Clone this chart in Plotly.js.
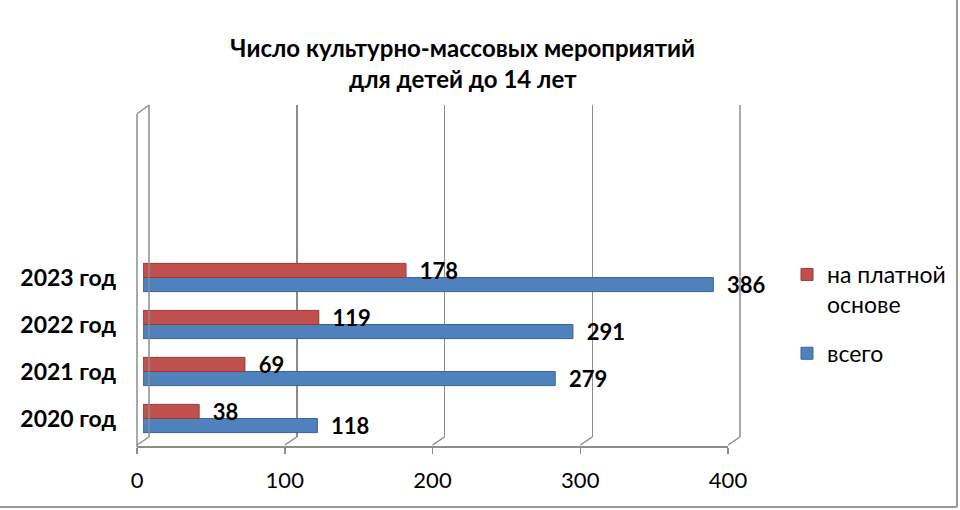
<!DOCTYPE html>
<html>
<head>
<meta charset="utf-8">
<script src="https://cdn.plot.ly/plotly-3.0.1.min.js"></script>
<style>
  html, body { margin: 0; padding: 0; background: #fff; }
  #chart { width: 960px; height: 510px; }
</style>
</head>
<body>
<div id="chart"></div>
<script>
// chart data
const years = ["2020 год", "2021 год", "2022 год", "2023 год"];
const paid = [38, 69, 119, 178];
const total = [118, 279, 291, 386];
const xTicks = [0, 100, 200, 300, 400];

const W = 960, H = 510;
const FONT = "Lato, 'Open Sans', sans-serif";
const GRID = "#8c8c8c";

// pixel helpers for the fake 3D wall
const fx = px => px / W;
const fy = py => 1 - py / H;
const frontDom = [fx(137), fx(728)];
const backDom = [fx(149), fx(740)];
const onDom = (dom, v) => dom[0] + (dom[1] - dom[0]) * v / 400;

const data = [
    // empty traces so the wall subplots get drawn
    { x: [], y: [], type: "scatter", xaxis: "x", yaxis: "y", showlegend: false, hoverinfo: "skip" },
    { x: [], y: [], type: "scatter", xaxis: "x2", yaxis: "y2", showlegend: false, hoverinfo: "skip" },
    {
        name: "всего",
        legendgroup: "b",
        legendrank: 2,
        type: "bar",
        orientation: "h",
        x: total,
        y: years,
        xaxis: "x3",
        yaxis: "y3",
        marker: { color: "#4F81BD", line: { color: "#3c6496", width: 1 } },
        texttemplate: "  %{x}",
        textposition: "outside",
        constraintext: "none",
        cliponaxis: false,
        textfont: { family: FONT, size: 22, color: "#000", weight: "bold" }
    },
    {
        name: "на платной<br>основе",
        legendgroup: "a",
        legendrank: 1,
        type: "bar",
        orientation: "h",
        x: paid,
        y: years,
        xaxis: "x3",
        yaxis: "y3",
        marker: { color: "#C0504D", line: { color: "#943c3a", width: 1 } },
        texttemplate: "  %{x}",
        textposition: "outside",
        constraintext: "none",
        cliponaxis: false,
        textfont: { family: FONT, size: 22, color: "#000", weight: "bold" }
    }
];

// floor diagonals, edge gridlines and the left side wall
const shapes = xTicks.map(v => ({
    type: "line", xref: "paper", yref: "paper",
    x0: onDom(frontDom, v), y0: fy(445), x1: onDom(backDom, v), y1: fy(437),
    line: { color: GRID, width: 1.5 }
}));
[0, 400].forEach(v => shapes.push({
    type: "line", xref: "paper", yref: "paper",
    x0: onDom(backDom, v), y0: fy(105), x1: onDom(backDom, v), y1: fy(437),
    line: { color: GRID, width: 1.5 }
}));
shapes.push(
    { type: "line", xref: "paper", yref: "paper", x0: fx(137), y0: fy(114), x1: fx(137), y1: fy(447), line: { color: GRID, width: 1.5 } },
    { type: "line", xref: "paper", yref: "paper", x0: fx(137), y0: fy(114), x1: fx(149), y1: fy(105), line: { color: GRID, width: 1.5 } },
    { type: "line", xref: "paper", yref: "paper", x0: fx(957), y0: fy(0), x1: fx(957), y1: fy(507), line: { color: "#9a9a9a", width: 2 } },
    { type: "line", xref: "paper", yref: "paper", x0: 0, y0: fy(507), x1: fx(957), y1: fy(507), line: { color: "#9a9a9a", width: 2 } }
);

const layout = {
    width: W,
    height: H,
    margin: { l: 0, r: 0, t: 0, b: 0 },
    paper_bgcolor: "#fff",
    plot_bgcolor: "rgba(0,0,0,0)",
    font: { family: FONT, color: "#000" },
    title: {
        text: "Число культурно-массовых мероприятий<br>для детей до 14 лет",
        font: { family: FONT, size: 24, color: "#000", weight: "bold" },
        x: 0.482,
        xanchor: "center",
        y: fy(57),
        yanchor: "top"
    },
    barmode: "group",
    bargap: 0.4,
    bargroupgap: 0,
    showlegend: true,
    legend: {
        x: fx(787),
        y: fy(253),
        xanchor: "left",
        yanchor: "top",
        valign: "top",
        traceorder: "grouped",
        font: { family: FONT, size: 23, color: "#000" },
        tracegroupgap: 16,
        bgcolor: "rgba(0,0,0,0)"
    },
    // back wall gridlines
    xaxis: {
        domain: backDom, range: [0, 400], anchor: "y",
        tickvals: xTicks, showgrid: true, gridcolor: GRID, gridwidth: 1.5,
        zeroline: false, showticklabels: false, ticks: "", showline: false, fixedrange: true
    },
    yaxis: {
        domain: [fy(437), fy(105)], range: [0, 1], anchor: "x", visible: false, fixedrange: true
    },
    // front axis with tick labels
    xaxis2: {
        domain: frontDom, range: [0, 400], anchor: "y2",
        tickvals: xTicks, showgrid: false, zeroline: false,
        showline: true, linecolor: GRID, linewidth: 1.5,
        ticks: "outside", ticklen: 6, tickcolor: GRID, tickwidth: 1.5,
        ticklabelstandoff: 8,
        tickfont: { family: FONT, size: 22, color: "#000" }, fixedrange: true
    },
    yaxis2: {
        domain: [fy(446), fy(114)], range: [0, 1], anchor: "x2", visible: false, fixedrange: true
    },
    // bars
    xaxis3: {
        domain: [fx(143), fx(734)], range: [0, 400], anchor: "y3", visible: false, fixedrange: true
    },
    yaxis3: {
        domain: [fy(442), fy(113)], type: "category", range: [-0.5, 6.5], anchor: "x3",
        showgrid: false, zeroline: false, showline: false, ticks: "",
        ticklabelstandoff: 26,
        tickfont: { family: FONT, size: 23, color: "#000", weight: "bold" }, fixedrange: true
    },
    shapes: shapes
};

Plotly.newPlot("chart", data, layout, { displayModeBar: false, staticPlot: true });
</script>
</body>
</html>
